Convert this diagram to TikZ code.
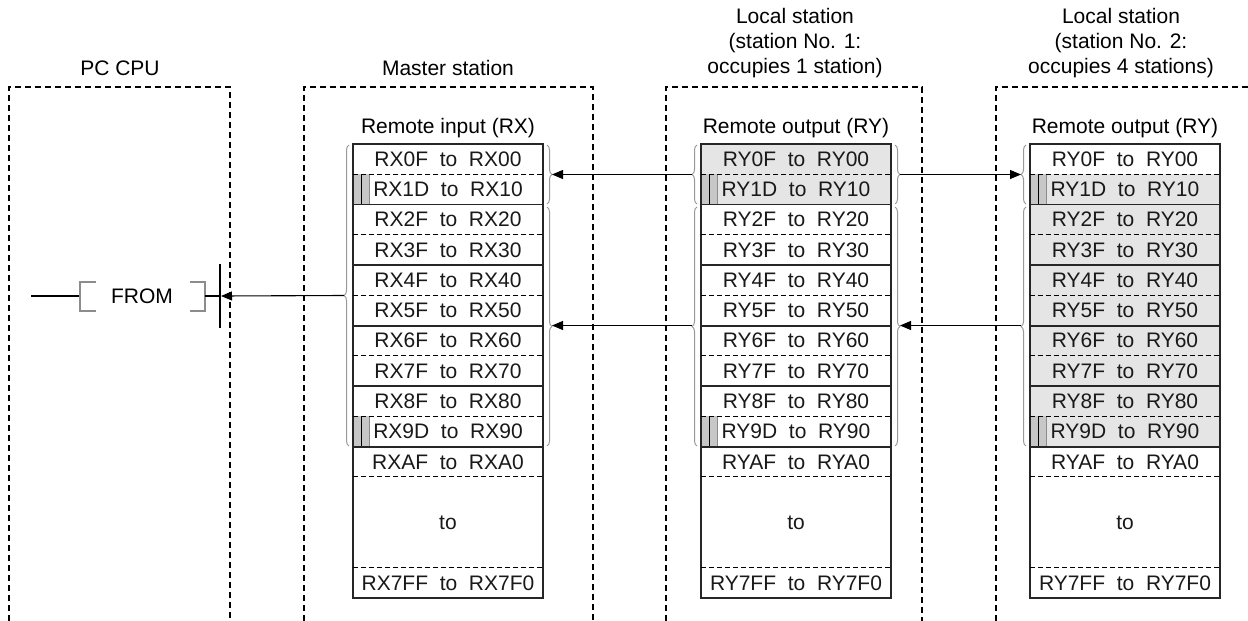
\documentclass[tikz,border=0pt]{standalone}
\usepackage{fontspec}
\setmainfont{Liberation Sans}
\usetikzlibrary{arrows.meta,decorations.pathreplacing}
\newcommand\rowh{30.27}
\newcommand\mytable[3]{%
  % #1 left x, #2 prefix, #3 node name prefix
  \draw[tline] (#1,144) rectangle ({#1+190},598);
  \foreach \k in {2,4,6,8,10} \draw[tline] (#1,{144+\rowh*\k}) -- ({#1+190},{144+\rowh*\k});
  \foreach \k in {1,3,5,7,9,11,14} \draw[dline] (#1,{144+\rowh*\k}) -- ({#1+190},{144+\rowh*\k});
  \foreach \i/\a/\b in {0/0F/00,1/1D/10,2/2F/20,3/3F/30,4/4F/40,5/5F/50,6/6F/60,7/7F/70,8/8F/80,9/9D/90,10/AF/A0,14/7FF/7F0}
    \node[cell] (#3\i) at ({#1+95},{144+\rowh*(\i+0.5)}) {#2\a\ \ to\ \ #2\b};
  \node[cell] (#3to) at ({#1+95},{144+\rowh*12.5}) {to};
}
\newcommand\mymarker[2]{%
  \fill[mfill] (#1,{144+\rowh*#2}) rectangle ({#1+16},{144+\rowh*(#2+1)});
  \draw[black, line width=0.8pt] ({#1+8},{144+\rowh*#2}) -- ({#1+8},{144+\rowh*(#2+1)});
  \draw[black!45, line width=0.9pt] ({#1+16},{144+\rowh*#2}) -- ({#1+16},{144+\rowh*(#2+1)});
}
\begin{document}
\begin{tikzpicture}[x=1pt,y=-1pt, font=\fontsize{21}{25}\selectfont,
  dbox/.style={draw=black, line width=1.1pt, dash pattern=on 6pt off 4pt},
  tline/.style={draw=black!85, line width=1.8pt},
  dline/.style={draw=black, line width=1pt, dash pattern=on 5pt off 3pt},
  gbrace/.style={draw=black!40, line width=1pt, decorate, decoration={brace, amplitude=5pt}},
  arr/.style={draw=black, line width=1.1pt, -{Triangle[length=11pt,width=9pt]}},
  cell/.style={inner sep=0pt, anchor=center, text=black!90},
  gfill/.style={fill=black!10},
  mfill/.style={fill=black!22},
  lbl/.style={inner sep=0pt, anchor=center, align=center},
  ]
\useasboundingbox (0,0) rectangle (1248,621);
\fill[white] (0,0) rectangle (1248,621);

% dashed station frames
\draw[dbox] (9,621) -- (9,87) -- (230,87) -- (230,621);
\draw[dbox] (304,621) -- (304,87) -- (593,87) -- (593,621);
\draw[dbox] (666,621) -- (666,87) -- (922,87) -- (922,621);
\draw[dbox] (996,621) -- (996,87) -- (1250,87);

% headers
\node[lbl] (hpc) at (120,68) {PC CPU};
\node[lbl] (hms) at (448,68) {Master station};
\node[lbl] (hl1) at (795,43) {Local station\\(station No. 1:\\occupies 1 station)};
\node[lbl] (hl2) at (1121,43) {Local station\\(station No. 2:\\occupies 4 stations)};
\node[lbl] (tms) at (448,128) {Remote input (RX)};
\node[lbl] (tl1) at (796,128) {Remote output (RY)};
\node[lbl] (tl2) at (1125,128) {Remote output (RY)};

% gray fills
\fill[gfill] (701,144) rectangle (891,{144+\rowh*2});
\fill[gfill] (1030,{144+\rowh}) rectangle (1220,{144+\rowh*10});
\mymarker{353}{1}\mymarker{353}{9}
\mymarker{701}{1}\mymarker{701}{9}
\mymarker{1030}{1}\mymarker{1030}{9}

% tables
\mytable{353}{RX}{m}
\mytable{701}{RY}{a}
\mytable{1030}{RY}{b}

% braces
\draw[gbrace] (349,446) -- (349,145);
\draw[gbrace] (547,145) -- (547,204);
\draw[gbrace] (547,207) -- (547,446);
\draw[gbrace] (697,204) -- (697,145);
\draw[gbrace] (697,446) -- (697,207);
\draw[gbrace] (895,145) -- (895,204);
\draw[gbrace] (895,207) -- (895,446);
\draw[gbrace] (1026,204) -- (1026,145);
\draw[gbrace] (1026,446) -- (1026,207);

\coordinate (mL) at (344,295.5);
\coordinate (mR1) at (552,174.5);
\coordinate (mR2) at (552,325.5);
\coordinate (aL1) at (692,174.5);
\coordinate (aL2) at (692,325.5);
\coordinate (aR1) at (900,174.5);
\coordinate (aR2) at (900,325.5);
\coordinate (bL1) at (1021,174.5);
\coordinate (bL2) at (1021,325.5);

% FROM instruction
\node[lbl] (from) at (142,296) {FROM};
\draw[black, line width=1.1pt] (31,296) -- (80,296);
\draw[black!45, line width=1.3pt] (96,282) -- (80,282) -- (80,311) -- (96,311);
\draw[black!45, line width=1.3pt] (190,282) -- (205,282) -- (205,311) -- (190,311);
\draw[black, line width=1.1pt] (205,296) -- (220,296);
\draw[black, line width=1.3pt] (220,264) -- (220,328);
\coordinate (bar) at (221,296);

% arrows
\draw[arr] (mL) -- (bar);
\draw[arr] (aL1) -- (mR1);
\draw[arr] (aL2) -- (mR2);
\draw[arr] (aR1) -- (bL1);
\draw[arr] (bL2) -- (aR2);
\end{tikzpicture}
\end{document}
